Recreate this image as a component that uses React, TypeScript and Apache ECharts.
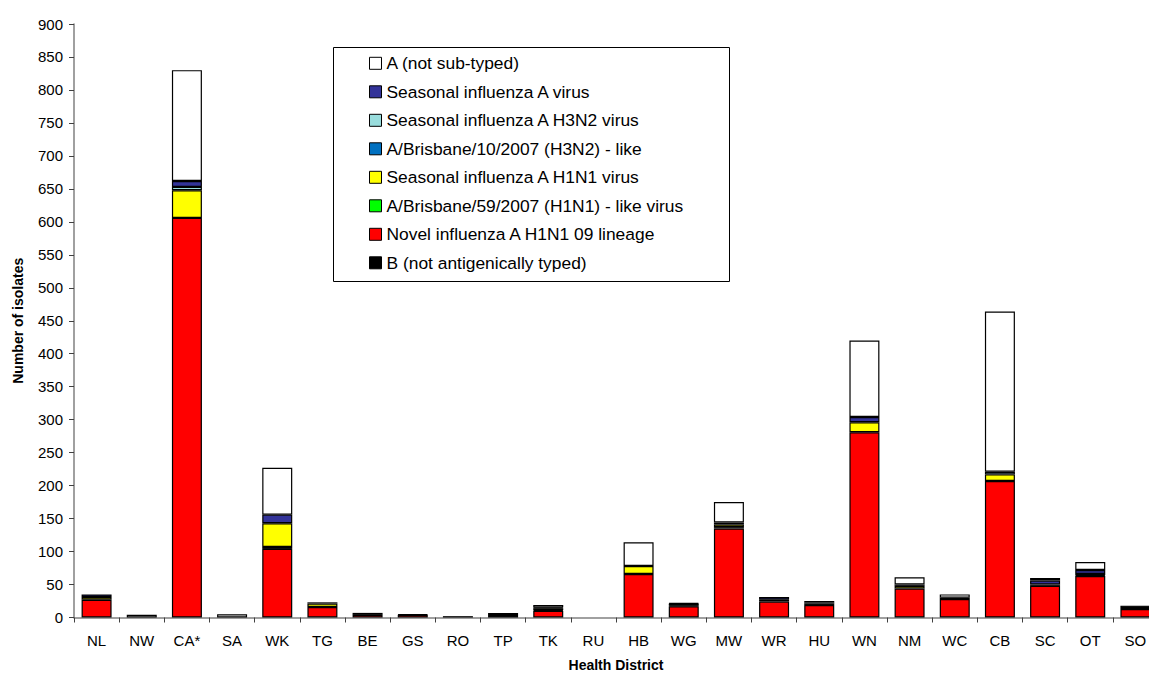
import React, { useEffect, useRef } from "react";
import * as echarts from "echarts";

const categories = ["NL", "NW", "CA*", "SA", "WK", "TG", "BE", "GS", "RO", "TP", "TK", "RU", "HB", "WG", "MW", "WR", "HU", "WN", "NM", "WC", "CB", "SC", "OT", "SO"];

const novelH1N1 = [27, 0, 606, 0, 104, 16, 4, 4, 0, 0, 10, 0, 66, 17, 135, 24, 19, 281, 44, 28, 207, 48, 63, 13];
const typeB = [0, 0, 0, 0, 3, 0, 3, 1, 2, 7, 1, 0, 0, 1, 2, 3, 2, 0, 0, 2, 0, 2, 1, 5];
const brisbane59 = [0, 0, 0, 0, 0, 0, 0, 0, 0, 0, 0, 0, 0, 0, 0, 0, 0, 0, 0, 0, 0, 0, 0, 0];
const seasonalH1N1 = [4, 0, 42, 0, 36, 5, 0, 0, 0, 0, 3, 0, 12, 3, 4, 0, 0, 15, 4, 0, 10, 0, 2, 0];
const brisbane10 = [0, 0, 0, 0, 0, 0, 0, 0, 0, 0, 0, 0, 0, 0, 0, 0, 0, 0, 0, 0, 0, 0, 0, 0];
const seasonalH3N2 = [0, 0, 5, 0, 0, 0, 0, 0, 0, 0, 0, 0, 0, 0, 0, 0, 2, 0, 0, 0, 4, 0, 0, 0];
const seasonalA = [4, 0, 9, 0, 13, 0, 0, 0, 0, 0, 1, 0, 0, 0, 3, 4, 0, 8, 2, 0, 0, 6, 6, 0];
const notSubtyped = [0, 4, 168, 5, 71, 2, 0, 0, 0, 0, 4, 0, 36, 1, 31, 0, 2, 116, 11, 5, 243, 4, 12, 0];

const yTicks = { min: 0, max: 900, interval: 50 };

const seriesDefs = [
  { name: "Novel influenza A H1N1 09 lineage", data: novelH1N1, color: "#FF0000" },
  { name: "B (not antigenically typed)", data: typeB, color: "#000000" },
  { name: "A/Brisbane/59/2007 (H1N1) - like virus", data: brisbane59, color: "#00FF00" },
  { name: "Seasonal influenza A H1N1 virus", data: seasonalH1N1, color: "#FFFF00" },
  { name: "A/Brisbane/10/2007 (H3N2) - like", data: brisbane10, color: "#0070C0" },
  { name: "Seasonal influenza A H3N2 virus", data: seasonalH3N2, color: "#99DDDD" },
  { name: "Seasonal influenza A virus", data: seasonalA, color: "#333399" },
  { name: "A (not sub-typed)", data: notSubtyped, color: "#FFFFFF" },
];

const legendOrder = [
  "A (not sub-typed)",
  "Seasonal influenza A virus",
  "Seasonal influenza A H3N2 virus",
  "A/Brisbane/10/2007 (H3N2) - like",
  "Seasonal influenza A H1N1 virus",
  "A/Brisbane/59/2007 (H1N1) - like virus",
  "Novel influenza A H1N1 09 lineage",
  "B (not antigenically typed)",
];

const FONT = "'Liberation Sans', Arial, sans-serif";

export default function App() {
  const ref = useRef<HTMLDivElement>(null);
  useEffect(() => {
    if (!ref.current) return;
    const chart = echarts.init(ref.current, null, { renderer: "svg" });
    chart.setOption({
      animation: false,
      backgroundColor: "#FFFFFF",
      textStyle: { fontFamily: FONT },
      grid: { left: 74, right: -9, top: 24, bottom: 55.5, containLabel: false, outerBoundsMode: "none" },
      graphic: [
        {
          type: "rect",
          z: 0,
          shape: { x: 333.5, y: 47.5, width: 396, height: 234 },
          style: { fill: "#FFFFFF", stroke: "#000000", lineWidth: 1 },
        },
      ],
      legend: {
        data: legendOrder,
        orient: "vertical",
        left: 364,
        top: 49.6,
        padding: 5,
        itemWidth: 12,
        itemHeight: 12,
        itemGap: 11.1,
        icon: "rect",
        z: 10,
        itemStyle: { borderColor: "#000000", borderWidth: 1 },
        textStyle: { fontFamily: FONT, fontSize: 17.4, color: "#000000", lineHeight: 17.4 },
      },
      xAxis: {
        type: "category",
        data: categories,
        name: "Health District",
        nameLocation: "middle",
        nameGap: 40,
        nameTextStyle: { fontFamily: FONT, fontSize: 14, fontWeight: "bold", color: "#000000", lineHeight: 14 },
        axisLine: { show: true, lineStyle: { color: "#808080", width: 1.5 } },
        axisTick: { show: true, alignWithLabel: false, inside: false, length: 5, lineStyle: { color: "#404040" } },
        axisLabel: { fontFamily: FONT, fontSize: 15, color: "#000000", margin: 15, interval: 0 },
        splitLine: { show: false },
      },
      yAxis: {
        type: "value",
        min: yTicks.min,
        max: yTicks.max,
        interval: yTicks.interval,
        name: "Number of isolates",
        nameLocation: "middle",
        nameGap: 49,
        nameRotate: 90,
        nameTextStyle: { fontFamily: FONT, fontSize: 14, fontWeight: "bold", color: "#000000" },
        axisLine: { show: true, lineStyle: { color: "#808080", width: 1.5 } },
        axisTick: { show: true, inside: false, length: 5, lineStyle: { color: "#404040" } },
        axisLabel: { fontFamily: FONT, fontSize: 15, color: "#000000", margin: 11 },
        splitLine: { show: false },
      },
      series: seriesDefs.map((s) => ({
        name: s.name,
        type: "bar",
        stack: "total",
        barWidth: 30,
        data: s.data.map((v) => (v === 0 ? null : v)),
        itemStyle: { color: s.color, borderColor: "#000000", borderWidth: 1.2 },
        emphasis: { disabled: true },
      })),
    });
    return () => chart.dispose();
  }, []);
  return (
    <div
      ref={ref}
      style={{ position: "absolute", left: 0, top: 0, width: 1149, height: 673 }}
    />
  );
}
